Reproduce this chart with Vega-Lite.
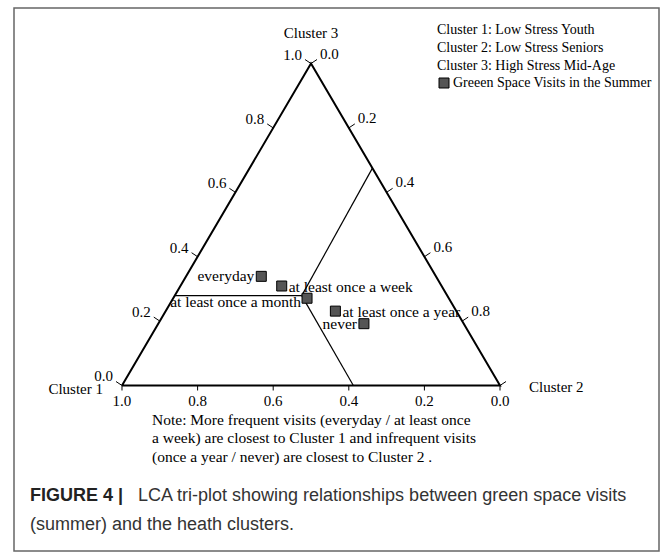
{
  "$schema": "https://vega.github.io/schema/vega-lite/v6.json",
  "width": 645,
  "height": 543,
  "autosize": {"type": "none"},
  "padding": {"left": 14, "top": 8, "right": 13, "bottom": 8},
  "background": "white",
  "config": {"view": {"stroke": "#666666", "strokeWidth": 1.5}},
  "datasets": {
    "frame": [
      {"o": 1, "c1": 1, "c2": 0, "c3": 0},
      {"o": 2, "c1": 0, "c2": 1, "c3": 0},
      {"o": 3, "c1": 0, "c2": 0, "c3": 1},
      {"o": 4, "c1": 1, "c2": 0, "c3": 0}
    ],
    "inner": [
      {"seg": "h", "o": 1, "c1": 0.721, "c2": 0, "c3": 0.279},
      {"seg": "h", "o": 2, "c1": 0.385, "c2": 0.336, "c3": 0.279},
      {"seg": "r", "o": 1, "c1": 0.385, "c2": 0.336, "c3": 0.279},
      {"seg": "r", "o": 2, "c1": 0, "c2": 0.325, "c3": 0.675},
      {"seg": "b", "o": 1, "c1": 0.385, "c2": 0.336, "c3": 0.279},
      {"seg": "b", "o": 2, "c1": 0.388, "c2": 0.612, "c3": 0}
    ],
    "ticks": [
      {"axis": "left", "v": 0}, {"axis": "left", "v": 0.2}, {"axis": "left", "v": 0.4},
      {"axis": "left", "v": 0.6}, {"axis": "left", "v": 0.8}, {"axis": "left", "v": 1},
      {"axis": "right", "v": 0}, {"axis": "right", "v": 0.2}, {"axis": "right", "v": 0.4},
      {"axis": "right", "v": 0.6}, {"axis": "right", "v": 0.8}, {"axis": "right", "v": 1},
      {"axis": "bottom", "v": 0}, {"axis": "bottom", "v": 0.2}, {"axis": "bottom", "v": 0.4},
      {"axis": "bottom", "v": 0.6}, {"axis": "bottom", "v": 0.8}, {"axis": "bottom", "v": 1}
    ],
    "points": [
      {"visit": "everyday", "series": "Greeen Space Visits in the Summer", "c1": 0.462, "c2": 0.199, "c3": 0.339},
      {"visit": "at least once a week", "series": "Greeen Space Visits in the Summer", "c1": 0.423, "c2": 0.268, "c3": 0.309},
      {"visit": "at least once a month", "series": "Greeen Space Visits in the Summer", "c1": 0.375, "c2": 0.354, "c3": 0.271},
      {"visit": "at least once a year", "series": "Greeen Space Visits in the Summer", "c1": 0.320, "c2": 0.449, "c3": 0.231},
      {"visit": "never", "series": "Greeen Space Visits in the Summer", "c1": 0.264, "c2": 0.544, "c3": 0.192}
    ],
    "vertices": [
      {"cluster": "Cluster 1", "c1": 1, "c2": 0, "c3": 0},
      {"cluster": "Cluster 2", "c1": 0, "c2": 1, "c3": 0},
      {"cluster": "Cluster 3", "c1": 0, "c2": 0, "c3": 1}
    ],
    "note": [{"t": ["Note: More frequent visits (everyday / at least once", "a week) are closest to Cluster 1 and infrequent visits", "(once a year / never) are closest to Cluster 2 ."]}],
    "capbold": [{"t": "FIGURE 4 |"}],
    "cap1": [{"t": "LCA tri-plot showing relationships between green space visits"}],
    "cap2": [{"t": "(summer) and the heath clusters."}]
  },
  "layer": [
    {
      "data": {"name": "frame"},
      "transform": [{"calculate": "datum.c2 + datum.c3/2", "as": "X"}, {"calculate": "datum.c3", "as": "Y"}],
      "mark": {"type": "line", "stroke": "black", "strokeWidth": 2, "strokeJoin": "miter"},
      "encoding": {
        "x": {"field": "X", "type": "quantitative", "scale": {"domain": [-0.2857, 1.4206], "nice": false, "zero": false}, "axis": null},
        "y": {"field": "Y", "type": "quantitative", "scale": {"domain": [-0.514, 1.1724], "nice": false, "zero": false}, "axis": null},
        "order": {"field": "o", "type": "quantitative"}
      }
    },
    {
      "data": {"name": "inner"},
      "transform": [{"calculate": "datum.c2 + datum.c3/2", "as": "X"}, {"calculate": "datum.c3", "as": "Y"}],
      "mark": {"type": "line", "stroke": "black", "strokeWidth": 1.2},
      "encoding": {
        "x": {"field": "X", "type": "quantitative", "scale": {"domain": [-0.2857, 1.4206], "nice": false, "zero": false}, "axis": null},
        "y": {"field": "Y", "type": "quantitative", "scale": {"domain": [-0.514, 1.1724], "nice": false, "zero": false}, "axis": null},
        "detail": {"field": "seg", "type": "nominal"},
        "order": {"field": "o", "type": "quantitative"}
      }
    },
    {
      "data": {"name": "ticks"},
      "transform": [
        {"calculate": "datum.axis == 'left' ? datum.v/2 : (datum.axis == 'right' ? (1 + datum.v)/2 : 1 - datum.v)", "as": "X"},
        {"calculate": "datum.axis == 'left' ? datum.v : (datum.axis == 'right' ? 1 - datum.v : 0)", "as": "Y"},
        {"calculate": "datum.X + (datum.axis == 'left' ? -0.0159 : (datum.axis == 'right' ? 0.0159 : 0))", "as": "X2"},
        {"calculate": "datum.Y + (datum.axis == 'bottom' ? -0.0155 : 0.0124)", "as": "Y2"},
        {"calculate": "format(datum.v, '.1f')", "as": "lab"}
      ],
      "encoding": {
        "x": {"field": "X", "type": "quantitative", "scale": {"domain": [-0.2857, 1.4206], "nice": false, "zero": false}, "axis": null},
        "y": {"field": "Y", "type": "quantitative", "scale": {"domain": [-0.514, 1.1724], "nice": false, "zero": false}, "axis": null}
      },
      "layer": [
        {
          "mark": {"type": "rule", "stroke": "black", "strokeWidth": 1},
          "encoding": {"x2": {"field": "X2"}, "y2": {"field": "Y2"}}
        },
        {
          "transform": [{"filter": "datum.axis == 'left'"}],
          "mark": {"type": "text", "align": "right", "baseline": "middle", "dx": -9, "dy": -9, "font": "Liberation Serif", "fontSize": 15, "color": "black"},
          "encoding": {"text": {"field": "lab"}}
        },
        {
          "transform": [{"filter": "datum.axis == 'right' && datum.v < 1"}],
          "mark": {"type": "text", "align": "left", "baseline": "middle", "dx": 9, "dy": -10, "font": "Liberation Serif", "fontSize": 15, "color": "black"},
          "encoding": {"text": {"field": "lab"}}
        },
        {
          "transform": [{"filter": "datum.axis == 'bottom'"}],
          "mark": {"type": "text", "align": "center", "baseline": "middle", "dy": 16, "font": "Liberation Serif", "fontSize": 15, "color": "black"},
          "encoding": {"text": {"field": "lab"}}
        }
      ]
    },
    {
      "data": {"name": "vertices"},
      "transform": [{"calculate": "datum.c2 + datum.c3/2", "as": "X"}, {"calculate": "datum.c3", "as": "Y"}],
      "encoding": {
        "x": {"field": "X", "type": "quantitative", "scale": {"domain": [-0.2857, 1.4206], "nice": false, "zero": false}, "axis": null},
        "y": {"field": "Y", "type": "quantitative", "scale": {"domain": [-0.514, 1.1724], "nice": false, "zero": false}, "axis": null},
        "text": {"field": "cluster"}
      },
      "layer": [
        {
          "transform": [{"filter": "datum.cluster == 'Cluster 1'"}],
          "mark": {"type": "text", "align": "right", "baseline": "middle", "dx": -19, "dy": 4, "font": "Liberation Serif", "fontSize": 15, "color": "black"}
        },
        {
          "transform": [{"filter": "datum.cluster == 'Cluster 2'"}],
          "mark": {"type": "text", "align": "left", "baseline": "middle", "dx": 29, "dy": 2, "font": "Liberation Serif", "fontSize": 15, "color": "black"}
        },
        {
          "transform": [{"filter": "datum.cluster == 'Cluster 3'"}],
          "mark": {"type": "text", "align": "center", "baseline": "middle", "dy": -31, "font": "Liberation Serif", "fontSize": 15, "color": "black"}
        }
      ]
    },
    {
      "data": {"name": "points"},
      "transform": [{"calculate": "datum.c2 + datum.c3/2", "as": "X"}, {"calculate": "datum.c3", "as": "Y"}],
      "encoding": {
        "x": {"field": "X", "type": "quantitative", "scale": {"domain": [-0.2857, 1.4206], "nice": false, "zero": false}, "axis": null},
        "y": {"field": "Y", "type": "quantitative", "scale": {"domain": [-0.514, 1.1724], "nice": false, "zero": false}, "axis": null}
      },
      "layer": [
        {
          "mark": {"type": "point", "shape": "square", "filled": true, "size": 100, "stroke": "black", "strokeWidth": 1, "opacity": 1},
          "encoding": {
            "color": {
              "field": "series", "type": "nominal",
              "scale": {"range": ["#555555"]},
              "legend": {
                "orient": "none", "legendX": 423, "legendY": 15, "padding": 0,
                "title": ["Cluster 1: Low Stress Youth", "Cluster 2: Low Stress Seniors", "Cluster 3: High Stress Mid-Age"],
                "titleFont": "Liberation Serif", "titleFontSize": 14, "titleFontWeight": "normal", "titleColor": "black",
                "titleLineHeight": 18, "titlePadding": 3, "titleBaseline": "top", "titleLimit": 400,
                "labelFont": "Liberation Serif", "labelFontSize": 14, "labelColor": "black", "labelOffset": 2, "labelLimit": 400,
                "symbolType": "square", "symbolSize": 100, "symbolStrokeColor": "black", "symbolStrokeWidth": 1, "symbolOpacity": 1, "symbolFillColor": "#555555"
              }
            }
          }
        },
        {
          "transform": [{"filter": "datum.visit == 'at least once a week' || datum.visit == 'at least once a year'"}],
          "mark": {"type": "text", "align": "left", "baseline": "middle", "dx": 7, "dy": 1, "font": "Liberation Serif", "fontSize": 15.5, "color": "black"},
          "encoding": {"text": {"field": "visit"}}
        },
        {
          "transform": [{"filter": "datum.visit == 'everyday' || datum.visit == 'never'"}],
          "mark": {"type": "text", "align": "right", "baseline": "middle", "dx": -7, "dy": 0, "font": "Liberation Serif", "fontSize": 15.5, "color": "black"},
          "encoding": {"text": {"field": "visit"}}
        },
        {
          "transform": [{"filter": "datum.visit == 'at least once a month'"}],
          "mark": {"type": "text", "align": "right", "baseline": "middle", "dx": -6, "dy": 4, "font": "Liberation Serif", "fontSize": 15.5, "color": "black"},
          "encoding": {"text": {"field": "visit"}}
        }
      ]
    },
    {
      "data": {"name": "note"},
      "mark": {"type": "text", "align": "left", "baseline": "middle", "font": "Liberation Serif", "fontSize": 15.5, "lineHeight": 18.5, "color": "black"},
      "encoding": {
        "x": {"datum": 0.0794, "type": "quantitative", "scale": {"domain": [-0.2857, 1.4206], "nice": false, "zero": false}, "axis": null},
        "y": {"datum": -0.107, "type": "quantitative", "scale": {"domain": [-0.514, 1.1724], "nice": false, "zero": false}, "axis": null},
        "text": {"field": "t"}
      }
    },
    {
      "data": {"name": "capbold"},
      "mark": {"type": "text", "align": "left", "baseline": "middle", "font": "Liberation Sans", "fontSize": 18, "fontWeight": "bold", "color": "#222222"},
      "encoding": {
        "x": {"datum": -0.2434, "type": "quantitative", "scale": {"domain": [-0.2857, 1.4206], "nice": false, "zero": false}, "axis": null},
        "y": {"datum": -0.3432, "type": "quantitative", "scale": {"domain": [-0.514, 1.1724], "nice": false, "zero": false}, "axis": null},
        "text": {"field": "t"}
      }
    },
    {
      "data": {"name": "cap1"},
      "mark": {"type": "text", "align": "left", "baseline": "middle", "font": "Liberation Sans", "fontSize": 18, "color": "#333333"},
      "encoding": {
        "x": {"datum": 0.0423, "type": "quantitative", "scale": {"domain": [-0.2857, 1.4206], "nice": false, "zero": false}, "axis": null},
        "y": {"datum": -0.3432, "type": "quantitative", "scale": {"domain": [-0.514, 1.1724], "nice": false, "zero": false}, "axis": null},
        "text": {"field": "t"}
      }
    },
    {
      "data": {"name": "cap2"},
      "mark": {"type": "text", "align": "left", "baseline": "middle", "font": "Liberation Sans", "fontSize": 18, "color": "#333333"},
      "encoding": {
        "x": {"datum": -0.2434, "type": "quantitative", "scale": {"domain": [-0.2857, 1.4206], "nice": false, "zero": false}, "axis": null},
        "y": {"datum": -0.4332, "type": "quantitative", "scale": {"domain": [-0.514, 1.1724], "nice": false, "zero": false}, "axis": null},
        "text": {"field": "t"}
      }
    }
  ]
}
